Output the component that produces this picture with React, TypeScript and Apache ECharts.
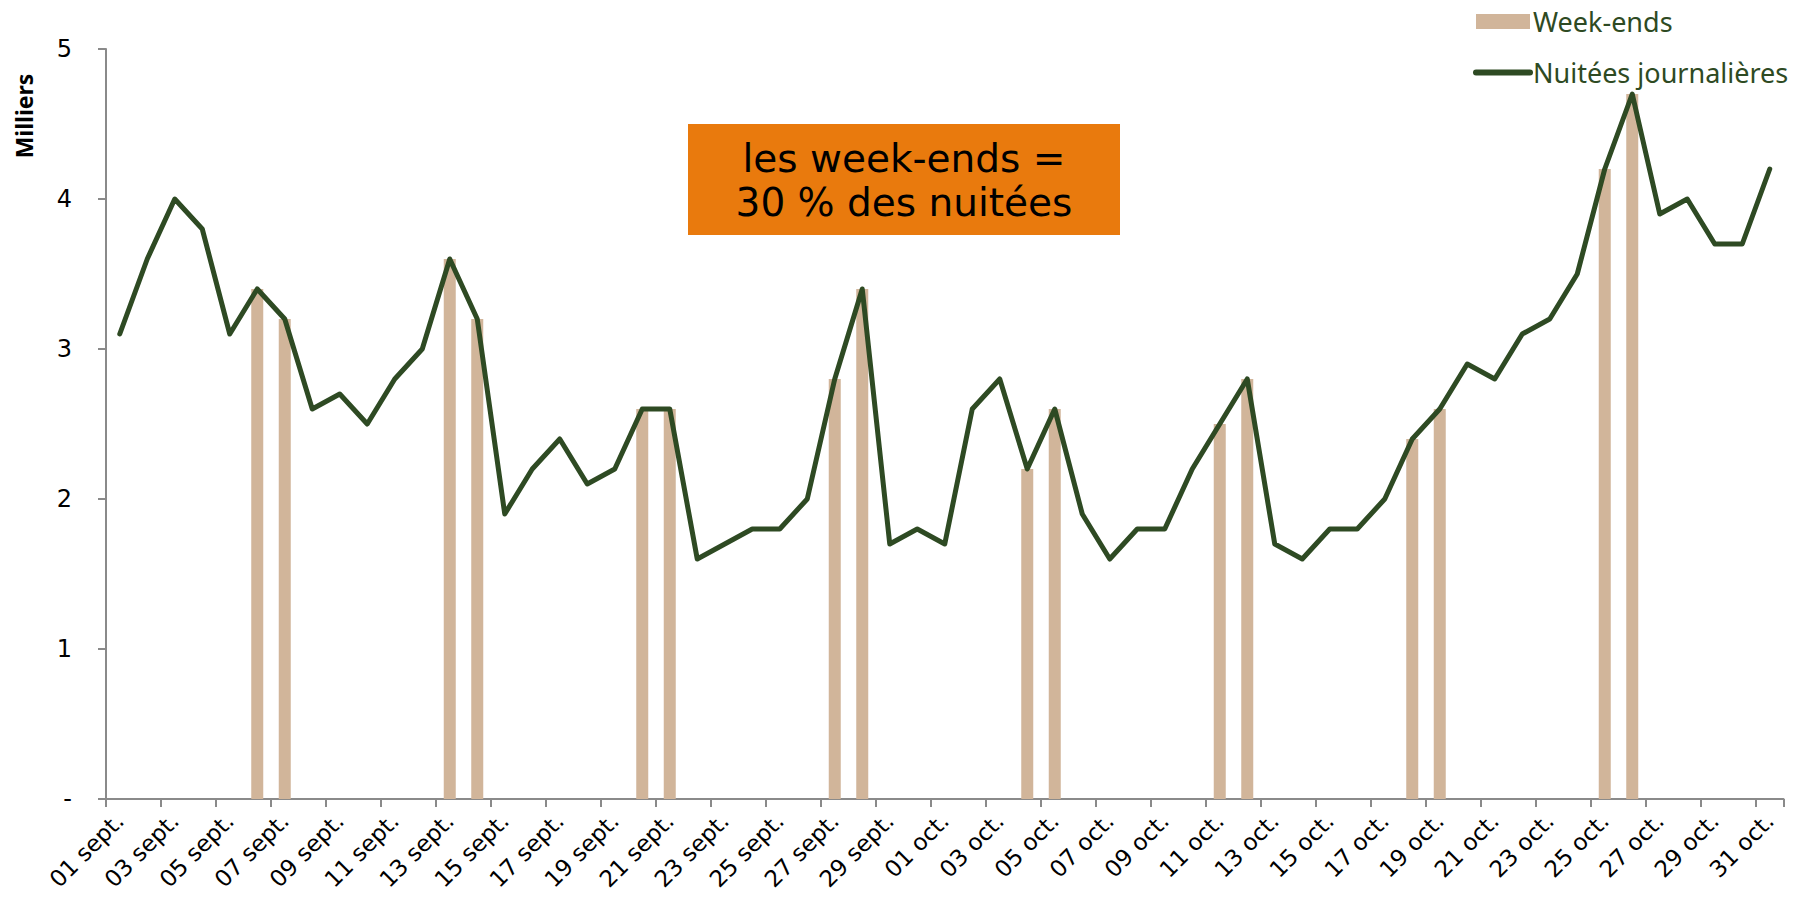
import React, { useEffect, useRef } from "react";
import * as echarts from "echarts";

const days: string[] = [
  "01 sept.", "02 sept.", "03 sept.", "04 sept.", "05 sept.", "06 sept.", "07 sept.", "08 sept.", "09 sept.", "10 sept.",
  "11 sept.", "12 sept.", "13 sept.", "14 sept.", "15 sept.", "16 sept.", "17 sept.", "18 sept.", "19 sept.", "20 sept.",
  "21 sept.", "22 sept.", "23 sept.", "24 sept.", "25 sept.", "26 sept.", "27 sept.", "28 sept.", "29 sept.", "30 sept.",
  "01 oct.", "02 oct.", "03 oct.", "04 oct.", "05 oct.", "06 oct.", "07 oct.", "08 oct.", "09 oct.", "10 oct.",
  "11 oct.", "12 oct.", "13 oct.", "14 oct.", "15 oct.", "16 oct.", "17 oct.", "18 oct.", "19 oct.", "20 oct.",
  "21 oct.", "22 oct.", "23 oct.", "24 oct.", "25 oct.", "26 oct.", "27 oct.", "28 oct.", "29 oct.", "30 oct.",
  "31 oct.",
];

// Nuitées journalières (milliers)
const nightly: number[] = [
  3.1, 3.6, 4.0, 3.8, 3.1, 3.4, 3.2, 2.6, 2.7, 2.5,
  2.8, 3.0, 3.6, 3.2, 1.9, 2.2, 2.4, 2.1, 2.2, 2.6,
  2.6, 1.6, 1.7, 1.8, 1.8, 2.0, 2.8, 3.4, 1.7, 1.8,
  1.7, 2.6, 2.8, 2.2, 2.6, 1.9, 1.6, 1.8, 1.8, 2.2,
  2.5, 2.8, 1.7, 1.6, 1.8, 1.8, 2.0, 2.4, 2.6, 2.9,
  2.8, 3.1, 3.2, 3.5, 4.2, 4.7, 3.9, 4.0, 3.7, 3.7,
  4.2,
];

// Week-ends (vendredi + samedi)
const weekends: (number | null)[] = [
  null, null, null, null, null, 3.4, 3.2, null, null, null,
  null, null, 3.6, 3.2, null, null, null, null, null, 2.6,
  2.6, null, null, null, null, null, 2.8, 3.4, null, null,
  null, null, null, 2.2, 2.6, null, null, null, null, null,
  2.5, 2.8, null, null, null, null, null, 2.4, 2.6, null,
  null, null, null, null, 4.2, 4.7, null, null, null, null,
  null,
];

const yTicks: number[] = [0, 1, 2, 3, 4, 5];

const GREEN = "#2E4A23";
const TAN = "#D1B59A";
const ORANGE = "#E97A0D";
const AXIS = "#8A8A8A";
const FONT = "Noto Sans";
const WIDE = "DejaVu Sans";

export default function App() {
  const ref = useRef<HTMLDivElement>(null);

  useEffect(() => {
    if (!ref.current) return;
    const chart = echarts.init(ref.current, undefined, { renderer: "svg" });
    chart.setOption({
      animation: false,
      backgroundColor: "#ffffff",
      textStyle: { fontFamily: FONT },
      grid: { left: 106, right: 10.5, top: 49, bottom: 118 },
      legend: {
        orient: "vertical",
        left: 1468,
        top: 3,
        itemWidth: 54,
        itemHeight: 15,
        itemGap: 24,
        lineStyle: { width: 6, cap: "round" },
        textStyle: { color: GREEN, fontSize: 27, fontFamily: FONT, padding: [0, 0, 0, -2] },
        data: [
          { name: "Week-ends", icon: "rect" },
          { name: "Nuitées journalières", itemStyle: { opacity: 0 } },
        ],
      },
      xAxis: {
        type: "category",
        data: days,
        boundaryGap: true,
        axisLine: { lineStyle: { color: AXIS, width: 2 } },
        axisTick: { show: true, interval: 1, length: 8, lineStyle: { color: AXIS, width: 2 } },
        axisLabel: {
          interval: 1,
          rotate: 45,
          margin: 18,
          color: "#000",
          fontSize: 23,
          fontFamily: WIDE,
        },
      },
      yAxis: {
        type: "value",
        min: yTicks[0],
        max: yTicks[yTicks.length - 1],
        interval: 1,
        splitLine: { show: false },
        axisLine: { show: true, lineStyle: { color: AXIS, width: 2 } },
        axisTick: { show: true, length: 8, lineStyle: { color: AXIS, width: 2 } },
        axisLabel: {
          margin: 34,
          color: "#000",
          fontSize: 24,
          fontFamily: WIDE,
          formatter: (v: number) => (v === 0 ? "-" : String(v)),
        },
      },
      series: [
        {
          name: "Week-ends",
          type: "bar",
          data: weekends,
          barWidth: 12,
          itemStyle: { color: TAN },
          z: 1,
        },
        {
          name: "Nuitées journalières",
          type: "line",
          data: nightly,
          symbol: "none",
          lineStyle: { color: GREEN, width: 5, cap: "round", join: "round" },
          itemStyle: { color: GREEN },
          z: 3,
        },
      ],
      graphic: [
        {
          type: "text",
          x: 24,
          y: 116,
          rotation: Math.PI / 2,
          style: {
            text: "Milliers",
            fontFamily: FONT,
            fontWeight: "bold",
            fontSize: 23,
            fill: "#000",
            align: "center",
            verticalAlign: "middle",
          },
        },
        {
          type: "group",
          left: 688,
          top: 124,
          children: [
            {
              type: "rect",
              shape: { x: 0, y: 0, width: 432, height: 111 },
              style: { fill: ORANGE },
            },
            {
              type: "text",
              x: 216,
              y: 56,
              style: {
                text: "les week-ends =\n30 % des nuitées",
                fontFamily: WIDE,
                fontSize: 39,
                lineHeight: 44,
                fill: "#000",
                align: "center",
                verticalAlign: "middle",
              },
            },
          ],
        },
      ],
    });
    return () => chart.dispose();
  }, []);

  return (
    <div
      ref={ref}
      style={{ position: "fixed", left: 0, top: 0, width: 1794, height: 917 }}
    />
  );
}
